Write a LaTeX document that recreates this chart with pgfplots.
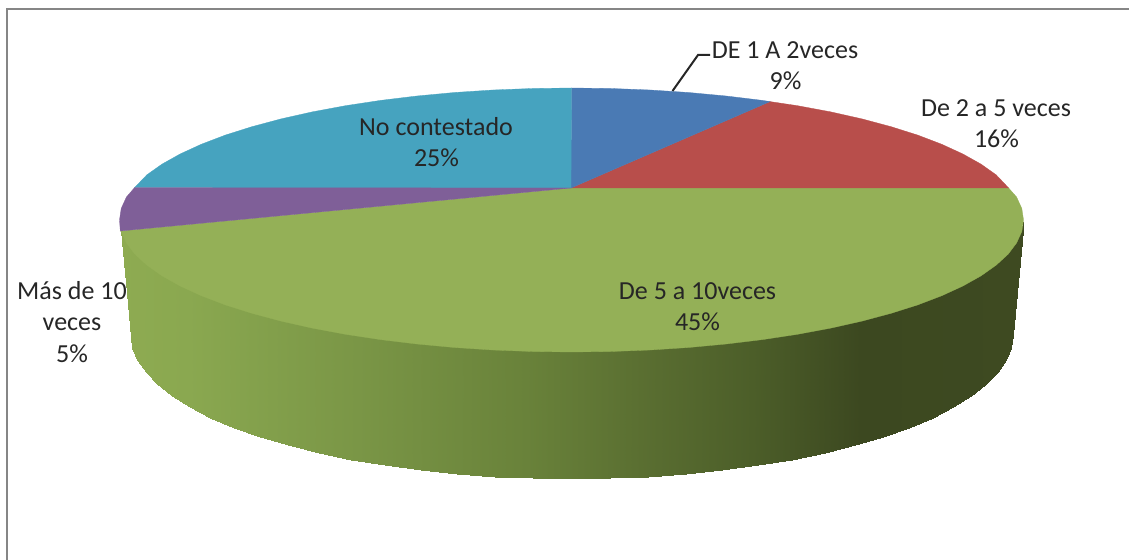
\documentclass[border=0pt]{standalone}
\usepackage{pgfplots}
\pgfplotsset{compat=1.18}
\usepackage{fontspec}
\setmainfont{Carlito}
\definecolor{cblue}{HTML}{4A7AB4}
\definecolor{cred}{HTML}{B84E4B}
\definecolor{cgreen}{HTML}{94B057}
\definecolor{cpurple}{HTML}{7F5F98}
\definecolor{cteal}{HTML}{46A3BF}
\definecolor{cframe}{HTML}{868686}
\tikzset{lbl/.style={font=\fontsize{26bp}{30bp}\selectfont,text=black!85,anchor=base,inner sep=0pt}}
\begin{document}
\begin{tikzpicture}[x=1bp,y=1bp]
\path (0,0) rectangle (1129,560);
\begin{axis}[
  at={(0,0)},anchor=south west,
  width=1129bp,height=560bp,scale only axis,
  xmin=0,xmax=1129,ymin=0,ymax=560,y dir=reverse,
  hide axis,clip=true,
  colormap={side}{color(0cm)=(rgb,255:red,142;green,171;blue,81);
    color(0.75cm)=(rgb,255:red,138;green,168;blue,80);
    color(2.63cm)=(rgb,255:red,122;green,150;blue,70);
    color(4.5cm)=(rgb,255:red,105;green,130;blue,58);
    color(5.96cm)=(rgb,255:red,88;green,108;blue,48);
    color(7cm)=(rgb,255:red,76;green,94;blue,41);
    color(8.2cm)=(rgb,255:red,60;green,72;blue,32);
    color(10cm)=(rgb,255:red,62;green,74;blue,33)},
  point meta min=119.5,point meta max=1023.5,
]
% frame
\addplot[cframe,line width=2bp] coordinates {(6.5,560) (6.5,9) (1129,9)};
% side of the pie
\addplot[surf,shader=interp,mesh/rows=2,point meta=x] table {
x y
119.5 220
121.2 227.5
126.4 238.9
134.9 250.2
146.8 261.1
161.9 271.8
180.1 282
201.2 291.7
225.3 300.9
251.9 309.3
281 317.1
312.2 324.1
345.5 330.3
380.5 335.6
416.9 340
454.5 343.5
493 346
532.1 347.5
571.5 348
610.9 347.5
650 346
688.5 343.5
726.1 340
762.5 335.6
797.5 330.3
830.8 324.1
862 317.1
891.1 309.3
917.7 300.9
941.8 291.7
962.9 282
981.1 271.8
996.2 261.1
1008.1 250.2
1016.6 238.9
1021.8 227.5
1023.5 220
130.5 335
132.2 347.6
137.2 360
145.5 372.3
157.1 384.2
171.8 395.9
189.6 407
210.2 417.6
233.7 427.6
259.7 436.8
288 445.3
318.5 453
351 459.7
385.1 465.5
420.7 470.3
457.4 474.1
494.9 476.8
533 478.5
571.5 479
610 478.5
648.1 476.8
685.6 474.1
722.3 470.3
757.9 465.5
792 459.7
824.5 453
855 445.3
883.3 436.8
909.3 427.6
932.8 417.6
953.4 407
971.2 395.9
985.9 384.2
997.5 372.3
1005.8 360
1010.8 347.6
1012.5 335
};
% top face: green
\addplot[fill=cgreen,draw=cgreen,line width=0.3bp] coordinates {
(571,188)(120.3,231)(121.2,231.5)(126.4,242.9)(134.9,254.2)(146.8,265.1)(161.9,275.8)(180.1,286)(201.2,295.7)(225.3,304.9)(251.9,313.3)(281,321.1)(312.2,328.1)(345.5,334.3)(380.5,339.6)(416.9,344)(454.5,347.5)(493,350)(532.1,351.5)(571.5,352)(610.9,351.5)(650,350)(688.5,347.5)(726.1,344)(762.5,339.6)(797.5,334.3)(830.8,328.1)(862,321.1)(891.1,313.3)(917.7,304.9)(941.8,295.7)(962.9,286)(981.1,275.8)(996.2,265.1)(1008.1,254.2)(1016.6,242.9)(1021.8,231.5)(1023.5,220)(1021.8,208.5)(1016.6,197.1)(1008.6,188)(571,188)} -- cycle;
% red
\addplot[fill=cred,draw=cred,line width=0.3bp] coordinates {
(571,188)(1008.6,188)(996.2,174.9)(981.1,164.2)(962.9,154)(941.8,144.3)(917.7,135.1)(891.1,126.7)(862,118.9)(830.8,111.9)(797.5,105.7)(770,101.6)(571,188)} -- cycle;
% blue
\addplot[fill=cblue,draw=cblue,line width=0.3bp] coordinates {
(571,188)(770,101.6)(762.5,100.4)(726.1,96)(688.5,92.5)(650,90)(610.9,88.5)(571.5,88)(571,188)} -- cycle;
% teal
\addplot[fill=cteal,draw=cteal,line width=0.3bp] coordinates {
(571,188)(571.5,88)(532.1,88.5)(493,90)(454.5,92.5)(416.9,96)(380.5,100.4)(345.5,105.7)(312.2,111.9)(281,118.9)(251.9,126.7)(225.3,135.1)(201.2,144.3)(180.1,154)(161.9,164.2)(146.8,174.9)(134.5,187.7)(571,188)} -- cycle;
% purple
\addplot[fill=cpurple,draw=cpurple,line width=0.3bp] coordinates {
(571,188)(134.5,187.7)(126.4,197.1)(121.2,208.5)(119.5,220)(120.3,231)(571,188)} -- cycle;
% leader line
\addplot[black!85,line width=2bp] coordinates {(672.5,91) (698,55) (710,55)};
% labels
\node[lbl] at (axis cs:785,58.5) {DE 1 A 2veces};
\node[lbl] at (axis cs:785.5,89.5) {9\%};
\node[lbl] at (axis cs:996,117) {De 2 a 5 veces};
\node[lbl] at (axis cs:996.5,148) {16\%};
\node[lbl] at (axis cs:436,135.5) {No contestado};
\node[lbl] at (axis cs:436.5,166.5) {25\%};
\node[lbl] at (axis cs:697.5,300) {De 5 a 10veces};
\node[lbl] at (axis cs:697.5,331) {45\%};
\node[lbl] at (axis cs:72,300) {Más de 10};
\node[lbl] at (axis cs:72,331) {veces};
\node[lbl] at (axis cs:72,362.5) {5\%};
\end{axis}
\end{tikzpicture}
\end{document}
